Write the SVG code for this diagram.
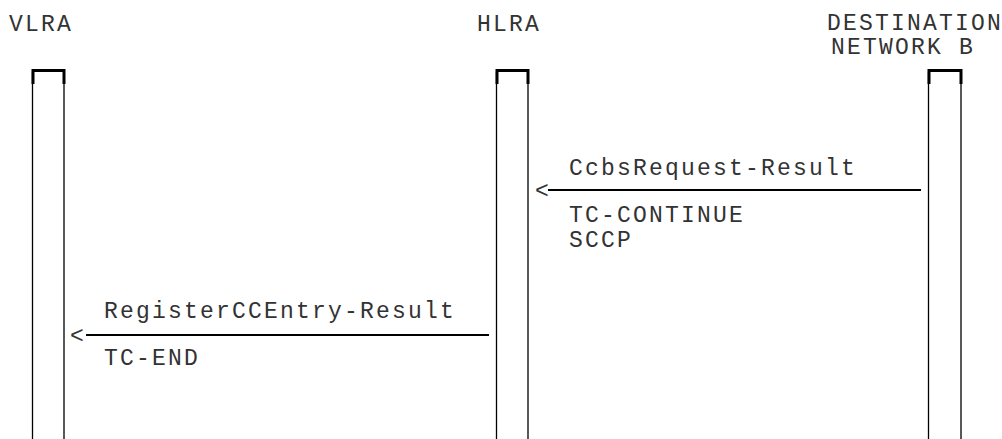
<svg xmlns="http://www.w3.org/2000/svg" width="1002" height="439" viewBox="0 0 1002 439">
<style>
text{font-family:"Liberation Mono","Courier New",monospace;font-size:23px;fill:#333;letter-spacing:2.2px}
.life{stroke:#000;stroke-width:1.3;fill:none}
.top{stroke:#000;stroke-width:3;fill:none}
.msg{stroke:#000;stroke-width:2;fill:none}
</style>
<rect width="1002" height="439" fill="#fff"/>
<g id="vlra">
<text x="9" y="31">VLRA</text>
<path class="top" d="M33 84V70.5H64V84"/>
<path class="life" d="M32.5 72V439M64 72V439"/>
</g>
<g id="hlra">
<text x="477" y="31">HLRA</text>
<path class="top" d="M497 84V70.5H528V84"/>
<path class="life" d="M496.5 72V439M528 72V439"/>
</g>
<g id="destination">
<text x="827" y="30">DESTINATION</text>
<text x="831" y="54">NETWORK B</text>
<path class="top" d="M929 84V70.5H961V84"/>
<path class="life" d="M928.5 72V439M961 72V439"/>
</g>
<g id="connectors">
<g id="msg1">
<text x="535" y="198">&lt;</text>
<line class="msg" x1="548" y1="190" x2="921" y2="190"/>
<text x="569" y="175">CcbsRequest-Result</text>
<text x="569" y="222">TC-CONTINUE</text>
<text x="569" y="247">SCCP</text>
</g>
<g id="msg2">
<text x="70" y="343">&lt;</text>
<line class="msg" x1="86" y1="335" x2="489" y2="335"/>
<text x="104" y="318">RegisterCCEntry-Result</text>
<text x="104" y="365">TC-END</text>
</g>
</g>
</svg>
